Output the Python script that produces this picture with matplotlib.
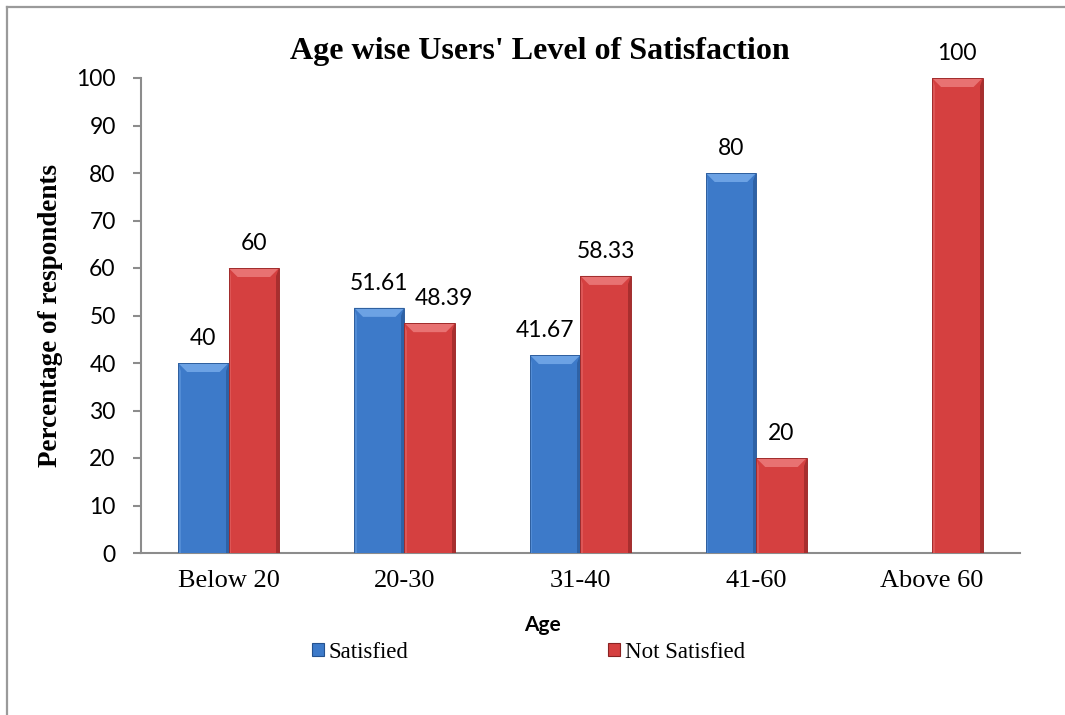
import matplotlib
matplotlib.use("Agg")
import matplotlib.pyplot as plt
from matplotlib.patches import Polygon, Rectangle
from matplotlib.lines import Line2D
from matplotlib.font_manager import FontProperties
import numpy as np

# Survey results: share of respondents by age group
age_groups = ["Below 20", "20-30", "31-40", "41-60", "Above 60"]
satisfied = [40, 51.61, 41.67, 80, None]
not_satisfied = [60, 48.39, 58.33, 20, 100]
y_ticks = list(range(0, 101, 10))

BLUE = dict(face="#3D7AC9", light="#6CA2E4", dark="#24528F", edge="#2F5F9E")
RED = dict(face="#D54040", light="#E87272", dark="#8A2323", edge="#A02C2C")

W, H = 1065, 715
fig = plt.figure(figsize=(W / 100, H / 100), dpi=100)
ax_l, ax_r, ax_t, ax_b = 140.7, 1020.0, 78.0, 553.0
ax = fig.add_axes([ax_l / W, 1 - ax_b / H, (ax_r - ax_l) / W, (ax_b - ax_t) / H])

x = np.arange(len(age_groups))
bw = 0.287
px_x = len(age_groups) / (ax_r - ax_l)   # data units per pixel horizontally
px_y = 100 / (ax_b - ax_t)              # data units per pixel vertically


def bevel_bar(xc, h, col):
    left, right = xc - bw / 2, xc + bw / 2
    ax.add_patch(Rectangle((left, 0), bw, h, facecolor=col["face"],
                           edgecolor="none", zorder=3))
    bx, by = 9 * px_x, min(9 * px_y, h / 2)
    # lighter top bevel
    ax.add_patch(Polygon([(left, h), (right, h), (right - bx, h - by), (left + bx, h - by)],
                         closed=True, facecolor=col["light"], edgecolor="none", zorder=4))
    # darker right bevel
    ax.add_patch(Polygon([(right, h), (right, 0), (right - 3 * px_x, 0),
                          (right - 3 * px_x, h - by * 0.9)],
                         closed=True, facecolor=col["dark"], edgecolor="none", alpha=0.6, zorder=4))
    # soft left bevel
    ax.add_patch(Polygon([(left, h), (left, 0), (left + 2.5 * px_x, 0), (left + 2.5 * px_x, h - by * 0.9)],
                         closed=True, facecolor=col["light"], edgecolor="none", alpha=0.45, zorder=4))
    ax.add_patch(Rectangle((left, 0), bw, h, facecolor="none",
                           edgecolor=col["edge"], linewidth=0.7, zorder=5))


def fmt(v):
    return f"{v:g}"


sans = ["Lato", "DejaVu Sans"]
label_font = dict(family=sans, fontsize=16.5, color="black")
offset = 5.2
# small sideways shifts (in pixels) that keep neighbouring labels apart
sat_shift = [0, 0, -10, 0, 0]
not_shift = [0, 14, 0, 0, 0]
for i in range(len(age_groups)):
    s, n = satisfied[i], not_satisfied[i]
    if s is not None:
        bevel_bar(x[i] - bw / 2, s, BLUE)
        ax.text(x[i] - bw / 2 + sat_shift[i] * px_x, s + offset, fmt(s),
                ha="center", va="center", clip_on=False, **label_font)
    if n is not None:
        bevel_bar(x[i] + bw / 2, n, RED)
        ax.text(x[i] + bw / 2 + not_shift[i] * px_x, n + offset, fmt(n),
                ha="center", va="center", clip_on=False, **label_font)

ax.set_xlim(-0.5, len(age_groups) - 0.5)
ax.set_ylim(0, 100)
ax.set_yticks(y_ticks)
ax.set_yticklabels([str(t) for t in y_ticks], fontfamily=sans, fontsize=16.5)
ax.set_xticks(x)
ax.set_xticklabels(age_groups, fontfamily="Liberation Serif", fontsize=19)
ax.tick_params(axis="x", length=0, pad=12)
ax.tick_params(axis="y", length=6, width=1.5, color="#8c8c8c", pad=12, direction="out")

for side in ("top", "right"):
    ax.spines[side].set_visible(False)
for side in ("left", "bottom"):
    ax.spines[side].set_color("#8c8c8c")
    ax.spines[side].set_linewidth(1.5)

ax.set_ylabel("Percentage of respondents", fontfamily="Liberation Serif",
              fontweight="bold", fontsize=19.5)
ax.yaxis.set_label_coords((51 - ax_l) / (ax_r - ax_l), 0.5)
ax.yaxis.label.set_va("center")

ax.set_xlabel("Age", fontfamily=sans, fontweight="bold", fontsize=15)
ax.xaxis.set_label_coords((542 - ax_l) / (ax_r - ax_l), (ax_b - 625) / (ax_b - ax_t))
ax.xaxis.label.set_va("center")

fig.text(540 / W, 1 - 52 / H, "Age wise Users' Level of Satisfaction", ha="center", va="center",
         fontfamily="Liberation Serif", fontweight="bold", fontsize=23)

handles = [Rectangle((0, 0), 1, 1, facecolor=BLUE["face"], edgecolor=BLUE["dark"], linewidth=0.8),
           Rectangle((0, 0), 1, 1, facecolor=RED["face"], edgecolor=RED["dark"], linewidth=0.8)]
fig.legend(handles, ["Satisfied", "Not Satisfied"], loc="center left",
           bbox_to_anchor=(312 / W, 1 - 652 / H), ncol=2, frameon=False,
           prop=FontProperties(family="Liberation Serif", size=16.5),
           borderpad=0, borderaxespad=0, handlelength=0.52, handleheight=0.52,
           handletextpad=0.22, columnspacing=8.7)

# outer frame (top and left edges)
fig.add_artist(Line2D([7 / W, 7 / W], [0, 1 - 7 / H], transform=fig.transFigure,
                      color="#9a9a9a", linewidth=1.6))
fig.add_artist(Line2D([7 / W, 1], [1 - 7 / H, 1 - 7 / H], transform=fig.transFigure,
                      color="#9a9a9a", linewidth=1.6))

fig.savefig("out.png", dpi=100, facecolor="white")
